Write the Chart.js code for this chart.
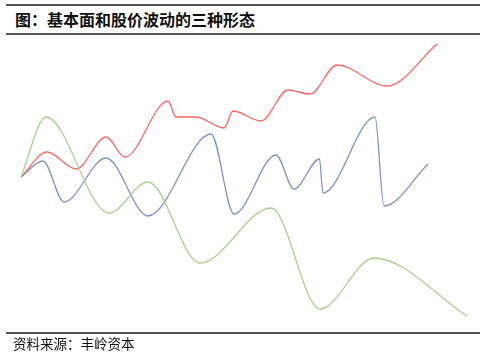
<!DOCTYPE html>
<html>
<head>
<meta charset="utf-8">
<script src="https://cdn.jsdelivr.net/npm/chart.js@4"></script>
<style>
  html, body { margin: 0; padding: 0; background: #fff; }
  body { width: 486px; height: 354px; position: relative; overflow: hidden; font-family: "Noto Sans CJK SC", sans-serif; }
  .rule { position: absolute; left: 6px; width: 474px; height: 2px; background: #555; }
  .title { position: absolute; left: 15px; top: 9px; font-size: 16px; font-weight: bold; color: #111; line-height: 20px; }
  .source { position: absolute; left: 13px; top: 335px; font-size: 13.5px; color: #111; line-height: 16px; }
  #wrap { position: absolute; left: 0; top: 0; width: 486px; height: 354px; }
</style>
</head>
<body>
<div class="rule" style="top:4px"></div>
<div class="title">图：基本面和股价波动的三种形态</div>
<div class="rule" style="top:33px"></div>
<div id="wrap"><canvas id="chart"></canvas></div>
<div class="rule" style="top:332px"></div>
<div class="source">资料来源：丰岭资本</div>

<script>
// time axis positions and levels (level grows upward)
const redT   = [21, 47, 76, 106, 125, 168, 176, 196, 224, 233, 261, 288, 310, 337, 387, 437];
const redV   = [177, 152, 169, 137, 157, 101, 117, 117, 128, 111, 121, 90, 94, 65, 86, 44];

const blueT  = [21, 43, 64, 106, 148, 211, 234, 276, 294, 319.5, 323, 375, 384, 428];
const blueV  = [177, 161, 202, 158, 216, 134, 214, 155, 189, 159, 193, 117, 206, 164];

const greenT = [21, 46, 109, 148, 200, 271, 320, 374, 467];
const greenV = [177, 117, 213, 182, 263, 208, 309, 258, 316];

const H = 354;
const pts = (t, v) => t.map((x, i) => ({ x, y: H - v[i] }));

function series(t, v, color) {
  return {
    data: pts(t, v),
    borderColor: color,
    borderWidth: 1.3,
    pointRadius: 0,
    fill: false,
    cubicInterpolationMode: 'monotone',
  };
}

new Chart(document.getElementById('chart'), {
  type: 'line',
  data: {
    datasets: [
      series(greenT, greenV, '#a9d18e'),
      series(blueT, blueV, '#7f93c2'),
      series(redT, redV, '#ff6666'),
    ],
  },
  options: {
    responsive: true,
    maintainAspectRatio: false,
    animation: false,
    layout: { padding: 0 },
    plugins: { legend: { display: false }, tooltip: { enabled: false } },
    scales: {
      x: { type: 'linear', min: 0, max: 486, display: false },
      y: { type: 'linear', min: 0, max: H, display: false },
    },
  },
});
</script>
</body>
</html>
